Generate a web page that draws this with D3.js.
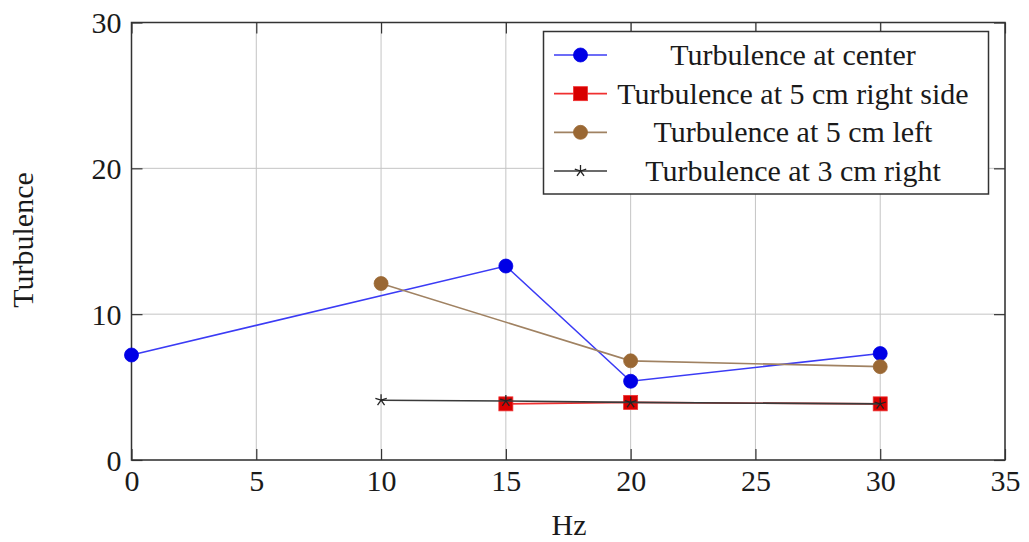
<!DOCTYPE html>
<html>
<head>
<meta charset="utf-8">
<script src="https://cdn.jsdelivr.net/npm/d3@7"></script>
<style>
  html, body { margin: 0; padding: 0; background: #fff; }
  svg text { font-family: "Liberation Serif", "Times New Roman", serif; fill: #1a1a1a; }
</style>
</head>
<body>
<svg id="chart" width="1029" height="542"></svg>
<script>
// Turbulence measured at several positions versus excitation frequency (Hz)
const xTicks = [0, 5, 10, 15, 20, 25, 30, 35];
const yTicks = [0, 10, 20, 30];

const centerHz = [0, 15, 20, 30];
const centerVal = [7.2, 13.3, 5.4, 7.3];

const right5Hz = [15, 20, 30];
const right5Val = [3.85, 3.95, 3.85];

const left5Hz = [10, 20, 30];
const left5Val = [12.1, 6.8, 6.4];

const right3Hz = [10, 15, 20, 30];
const right3Val = [4.1, 4.05, 3.95, 3.85];

const seriesNames = [
  "Turbulence at center",
  "Turbulence at 5 cm right side",
  "Turbulence at 5 cm left",
  "Turbulence at 3 cm right"
];

const series = [
  { name: seriesNames[0], xs: centerHz, ys: centerVal, line: "#3b3bf5", fill: "#0000e6", marker: "circle" },
  { name: seriesNames[1], xs: right5Hz, ys: right5Val, line: "#f03030", fill: "#d80000", marker: "square" },
  { name: seriesNames[2], xs: left5Hz, ys: left5Val, line: "#a08262", fill: "#9a6834", marker: "circle" },
  { name: seriesNames[3], xs: right3Hz, ys: right3Val, line: "#3a3a3a", fill: "#222", marker: "star" }
];

const svg = d3.select("#chart");
const plotL = 131.5, plotR = 1005, plotT = 22.5, plotB = 460;

const x = d3.scaleLinear().domain([0, 35]).range([plotL, plotR]);
const y = d3.scaleLinear().domain([0, 30]).range([plotB, plotT]);

// grid
const grid = svg.append("g");
grid.selectAll("line.gx").data(xTicks).join("line")
  .attr("x1", d => x(d)).attr("x2", d => x(d))
  .attr("y1", plotT).attr("y2", plotB)
  .attr("stroke", "#c4c4c4").attr("stroke-width", 1);
grid.selectAll("line.gy").data(yTicks).join("line")
  .attr("x1", plotL).attr("x2", plotR)
  .attr("y1", d => y(d)).attr("y2", d => y(d))
  .attr("stroke", "#c4c4c4").attr("stroke-width", 1);

// inward ticks on all four sides
const tickLen = 11;
const axisColor = "#333";
const axB = d3.axisBottom(x).tickValues(xTicks).tickSizeInner(-tickLen).tickSizeOuter(0).tickFormat(d3.format("d")).tickPadding(10);
const axT = d3.axisTop(x).tickValues(xTicks).tickSizeInner(-tickLen).tickSizeOuter(0).tickFormat("");
const axL = d3.axisLeft(y).tickValues(yTicks).tickSizeInner(-tickLen).tickSizeOuter(0).tickFormat(d3.format("d")).tickPadding(10);
const axR = d3.axisRight(y).tickValues(yTicks).tickSizeInner(-tickLen).tickSizeOuter(0).tickFormat("");

function styleAxis(g) {
  g.select(".domain").remove();
  g.selectAll(".tick line").attr("stroke", axisColor).attr("stroke-width", 1.2);
  g.selectAll(".tick text")
    .attr("font-family", "Liberation Serif, Times New Roman, serif")
    .attr("font-size", 30).attr("fill", "#1a1a1a");
}
svg.append("g").attr("transform", `translate(0,${plotB})`).call(axB).call(styleAxis);
svg.append("g").attr("transform", `translate(0,${plotT})`).call(axT).call(styleAxis);
svg.append("g").attr("transform", `translate(${plotL},0)`).call(axL).call(styleAxis)
  .selectAll(".tick text").attr("dy", "0.34em");
svg.append("g").attr("transform", `translate(${plotR},0)`).call(axR).call(styleAxis);

// frame
svg.append("rect")
  .attr("x", plotL).attr("y", plotT)
  .attr("width", plotR - plotL).attr("height", plotB - plotT)
  .attr("fill", "none").attr("stroke", axisColor).attr("stroke-width", 1.5);

// axis titles
svg.append("text").attr("x", 569).attr("y", 535)
  .attr("text-anchor", "middle").attr("font-size", 30).text("Hz");
svg.append("text")
  .attr("transform", "translate(33,240) rotate(-90)")
  .attr("text-anchor", "middle").attr("font-size", 30).text("Turbulence");

// marker drawing
function drawMarker(g, s, cx, cy) {
  if (s.marker === "circle") {
    g.append("circle").attr("cx", cx).attr("cy", cy).attr("r", 7)
      .attr("fill", s.fill).attr("stroke", s.fill).attr("stroke-width", 0.8);
  } else if (s.marker === "square") {
    g.append("rect").attr("x", cx - 7).attr("y", cy - 7).attr("width", 14).attr("height", 14)
      .attr("fill", s.fill).attr("stroke", s.line).attr("stroke-width", 0.8);
  } else {
    // asterisk-style star
    const r = 6;
    for (let k = 0; k < 5; k++) {
      const a = -Math.PI / 2 + k * 2 * Math.PI / 5;
      g.append("line").attr("x1", cx).attr("y1", cy)
        .attr("x2", cx + r * Math.cos(a)).attr("y2", cy + r * Math.sin(a))
        .attr("stroke", s.fill).attr("stroke-width", 1.3);
    }
  }
}

// series lines and markers
const lineGen = d3.line().x(d => x(d[0])).y(d => y(d[1]));
series.forEach(s => {
  const pts = s.xs.map((v, i) => [v, s.ys[i]]);
  const g = svg.append("g");
  g.append("path").attr("d", lineGen(pts))
    .attr("fill", "none").attr("stroke", s.line).attr("stroke-width", 1.6);
  pts.forEach(p => drawMarker(g, s, x(p[0]), y(p[1])));
});

// legend
const leg = svg.append("g");
const lx = 543.5, ly = 31.5, lw = 445, lh = 162.5;
leg.append("rect").attr("x", lx).attr("y", ly).attr("width", lw).attr("height", lh)
  .attr("fill", "#fff").attr("stroke", axisColor).attr("stroke-width", 1.5);
const rowY = d3.scalePoint().domain(seriesNames).range([55, 171]);
series.forEach(s => {
  const cy = rowY(s.name);
  leg.append("line").attr("x1", 554).attr("x2", 607).attr("y1", cy).attr("y2", cy)
    .attr("stroke", s.line).attr("stroke-width", 1.6);
  drawMarker(leg, s, 580.5, cy);
  leg.append("text").attr("x", 793).attr("y", cy).attr("dy", "0.33em")
    .attr("text-anchor", "middle").attr("font-size", 30).text(s.name);
});
</script>
</body>
</html>
